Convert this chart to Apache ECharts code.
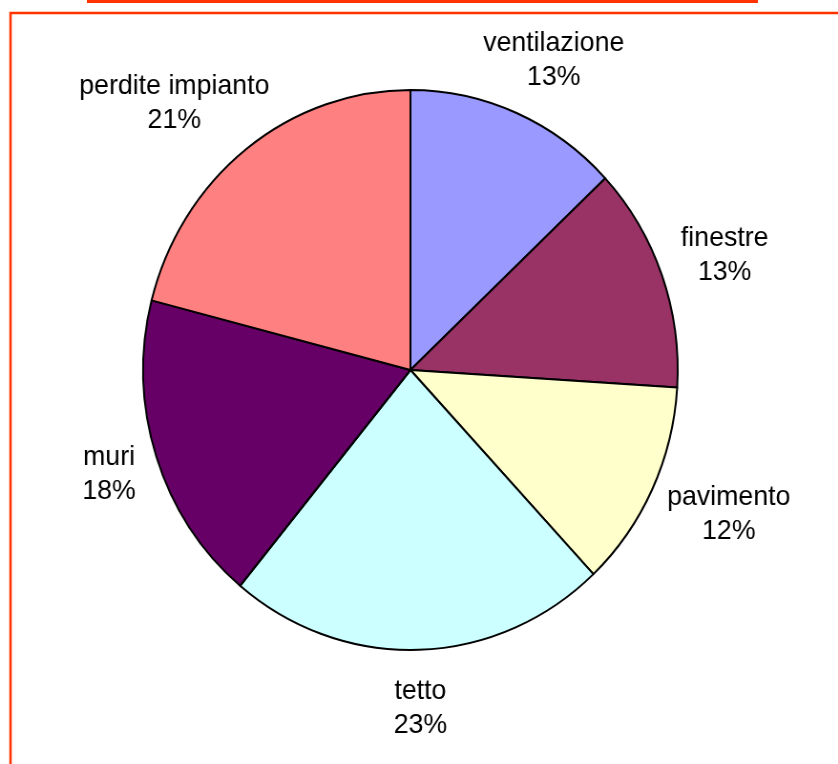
<!DOCTYPE html>
<html lang="it">
<head>
    <meta charset="UTF-8">
    <title>Dispersioni</title>
    <script type="text/javascript" src="https://cdn.jsdelivr.net/npm/echarts@6/dist/echarts.min.js"></script>
    <style>
        html, body { margin: 0; padding: 0; background: #fff; }
        #wrap { width: 838px; height: 764px; overflow: hidden; }
        /* il grafico originale è leggermente stirato in verticale */
        #main { width: 878px; height: 764px; transform: scaleX(0.9545); transform-origin: 0 0; }
    </style>
</head>
<body>
<div id="wrap"><div id="main"></div></div>
<script type="text/javascript">
    // dati
    var categories = ['ventilazione', 'finestre', 'pavimento', 'tetto', 'muri', 'perdite impianto'];
    var values = [13, 13, 12, 23, 18, 21];
    var palette = ['#9999FF', '#993366', '#FFFFCC', '#CCFFFF', '#660066', '#FF8080'];

    var cx = 430, cy = 370, R = 280, gap = 24;

    var myChart = echarts.init(document.getElementById('main'));

    var pieData = [];
    for (var i = 0; i < categories.length; i++) {
        pieData.push({ name: categories[i], value: values[i], itemStyle: { color: palette[i] } });
    }

    // etichette centrate lungo la bisettrice di ogni fetta
    function placeLabel(params) {
        var idx = params.dataIndex;
        var total = 0, before = 0;
        for (var k = 0; k < values.length; k++) {
            total += values[k];
            if (k < idx) before += values[k];
        }
        var mid = (before + values[idx] / 2) / total * 2 * Math.PI;
        var ux = Math.sin(mid), uy = -Math.cos(mid);
        var w = params.labelRect.width, h = params.labelRect.height;
        return {
            x: cx + (R + gap) * ux + ux * w / 2,
            y: cy + (R + gap) * uy + uy * h / 2,
            align: 'center',
            verticalAlign: 'middle'
        };
    }

    myChart.setOption({
        animation: false,
        backgroundColor: '#ffffff',
        graphic: [
            {
                type: 'rect',
                shape: { x: 91, y: 0, width: 703, height: 3 },
                style: { fill: '#FF3300' }
            },
            {
                type: 'rect',
                shape: { x: 11, y: 13, width: 950, height: 800 },
                style: { fill: 'none', stroke: '#FF3300', lineWidth: 2.5 }
            }
        ],
        series: [{
            type: 'pie',
            center: [cx, cy],
            radius: R,
            startAngle: 90,
            clockwise: true,
            avoidLabelOverlap: false,
            emphasis: { disabled: true },
            itemStyle: { borderColor: '#000000', borderWidth: 2 },
            label: {
                show: true,
                position: 'outside',
                formatter: '{b}\n{d}%',
                color: '#000000',
                fontFamily: 'Liberation Sans, Arial, sans-serif',
                fontSize: 28,
                lineHeight: 34,
                align: 'center'
            },
            labelLine: { show: false },
            labelLayout: placeLabel,
            data: pieData
        }]
    });
</script>
</body>
</html>
